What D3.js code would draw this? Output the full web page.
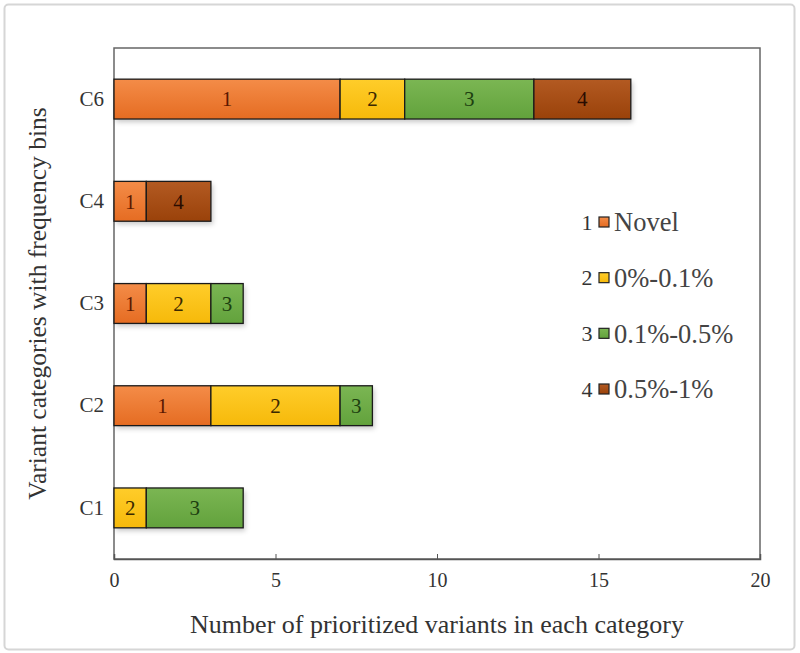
<!DOCTYPE html>
<html>
<head>
<meta charset="utf-8">
<script src="https://cdn.jsdelivr.net/npm/d3@7"></script>
<style>
	body { margin: 0; background: #fff; }
	svg text { font-family: 'Liberation Serif', 'Times New Roman', serif; }
</style>
</head>
<body>
<svg id="chart" width="800" height="653"></svg>
<script>
var categories = ['C6', 'C4', 'C3', 'C2', 'C1'];
var bins = ['1', '2', '3', '4'];
var binNames = ['Novel', '0%-0.1%', '0.1%-0.5%', '0.5%-1%'];
// counts per bin, in category order
var novel = [7, 1, 1, 3, 0];
var bin01 = [2, 0, 2, 4, 1];
var bin05 = [4, 0, 1, 1, 3];
var bin1 = [3, 2, 0, 0, 0];
var xTicks = [0, 5, 10, 15, 20];

var COLORS_TOP = ['#f48c48', '#ffcd2a', '#7bb653', '#b35a22'],
	COLORS_BOT = ['#e56c22', '#f6b90a', '#62a23c', '#9a420a'],
	TEXT_COLORS = ['#5a1800', '#3a2800', '#1d4010', '#2a0c00'];

var svg = d3.select('#chart'),
	margin = { top: 48, right: 40, bottom: 94, left: 114 },
	width = 760 - margin.left,
	height = 559 - margin.top;

// outer border
svg.append('rect')
	.attr('x', 4.5).attr('y', 4.5)
	.attr('width', 790).attr('height', 645)
	.attr('rx', 4)
	.attr('fill', 'none')
	.attr('stroke', '#d6d6d6')
	.attr('stroke-width', 2);

var defs = svg.append('defs');
bins.forEach(function(b, i) {
	var lg = defs.append('linearGradient')
		.attr('id', 'grad' + i)
		.attr('x1', 0).attr('y1', 0).attr('x2', 0).attr('y2', 1);
	lg.append('stop').attr('offset', '0%').attr('stop-color', COLORS_TOP[i]);
	lg.append('stop').attr('offset', '100%').attr('stop-color', COLORS_BOT[i]);
});
var shadow = defs.append('filter').attr('id', 'shadow')
	.attr('x', '-10%').attr('y', '-20%').attr('width', '130%').attr('height', '160%');
shadow.append('feDropShadow')
	.attr('dx', 2).attr('dy', 3).attr('stdDeviation', 2.5)
	.attr('flood-color', '#000').attr('flood-opacity', 0.22);

var g = svg.append('g').attr('transform', 'translate(' + margin.left + ',' + margin.top + ')');

var x = d3.scaleLinear().domain([ 0, 20 ]).range([ 0, width ]);
var y = d3.scaleBand().domain(categories).range([ 0, height ])
	.paddingInner(0.61).paddingOuter(0.305);

var mydata = categories.map(function(c, i) {
	return { key: c, '1': novel[i], '2': bin01[i], '3': bin05[i], '4': bin1[i] };
});
var series = d3.stack().keys(bins)(mydata);

// plot frame
g.append('rect')
	.attr('x', 0).attr('y', 0)
	.attr('width', width).attr('height', height)
	.attr('fill', 'none')
	.attr('stroke', '#666')
	.attr('stroke-width', 1.5);

// shadow under each whole bar
categories.forEach(function(c, ci) {
	var total = series[series.length - 1][ci][1];
	g.append('rect')
		.attr('x', x(0))
		.attr('y', y(c))
		.attr('width', x(total) - x(0))
		.attr('height', y.bandwidth())
		.attr('fill', '#fff')
		.attr('filter', 'url(#shadow)');
});

series.forEach(function(s, si) {
	var seg = g.selectAll('.seg' + si)
		.data(s.filter(function(d) { return d[1] - d[0] > 0; }))
		.enter();
	seg.append('rect')
		.attr('x', function(d) { return x(d[0]); })
		.attr('y', function(d) { return y(d.data.key); })
		.attr('width', function(d) { return x(d[1]) - x(d[0]); })
		.attr('height', y.bandwidth())
		.attr('fill', 'url(#grad' + si + ')')
		.attr('stroke', '#1a1a1a')
		.attr('stroke-width', 1.3);
	seg.append('text')
		.attr('x', function(d) { return (x(d[0]) + x(d[1])) / 2; })
		.attr('y', function(d) { return y(d.data.key) + y.bandwidth() / 2; })
		.attr('dy', '0.35em')
		.attr('text-anchor', 'middle')
		.attr('font-size', 21)
		.attr('fill', TEXT_COLORS[si])
		.text(bins[si]);
});

// axes
var xAxis = g.append('g').attr('transform', 'translate(0,' + height + ')')
	.call(d3.axisBottom(x).tickValues(xTicks).tickSize(-5).tickPadding(14));
xAxis.select('.domain').attr('stroke', '#555').attr('stroke-width', 1.5);
xAxis.selectAll('.tick line').attr('stroke', '#555');
xAxis.selectAll('text').attr('font-size', 20).attr('fill', '#333');

var yAxis = g.append('g')
	.call(d3.axisLeft(y).tickSize(0).tickPadding(10));
yAxis.select('.domain').remove();
yAxis.selectAll('text').attr('font-size', 21).attr('fill', '#333');

// axis titles
svg.append('text')
	.attr('x', margin.left + width / 2)
	.attr('y', 633)
	.attr('text-anchor', 'middle')
	.attr('font-size', 26)
	.attr('fill', '#333')
	.text('Number of prioritized variants in each category');

svg.append('text')
	.attr('transform', 'translate(46,' + (margin.top + height / 2) + ') rotate(-90)')
	.attr('text-anchor', 'middle')
	.attr('font-size', 25.5)
	.attr('fill', '#333')
	.text('Variant categories with frequency bins');

// legend
var legendY = d3.scalePoint().domain(bins).range([ 222, 389 ]);
var legend = svg.selectAll('.legend')
	.data(bins)
	.enter()
	.append('g')
	.attr('class', 'legend')
	.attr('transform', function(d) { return 'translate(0,' + legendY(d) + ')'; });
legend.append('text')
	.attr('x', 587)
	.attr('dy', '0.35em')
	.attr('text-anchor', 'middle')
	.attr('font-size', 22)
	.attr('fill', '#333')
	.text(function(d) { return d; });
legend.append('rect')
	.attr('x', 599).attr('y', -5)
	.attr('width', 10).attr('height', 10)
	.attr('fill', function(d, i) { return 'url(#grad' + i + ')'; })
	.attr('stroke', '#222')
	.attr('stroke-width', 1.2);
legend.append('text')
	.attr('x', 614)
	.attr('dy', '0.35em')
	.attr('font-size', 26.5)
	.attr('fill', '#444')
	.text(function(d, i) { return binNames[i]; });
</script>
</body>
</html>
